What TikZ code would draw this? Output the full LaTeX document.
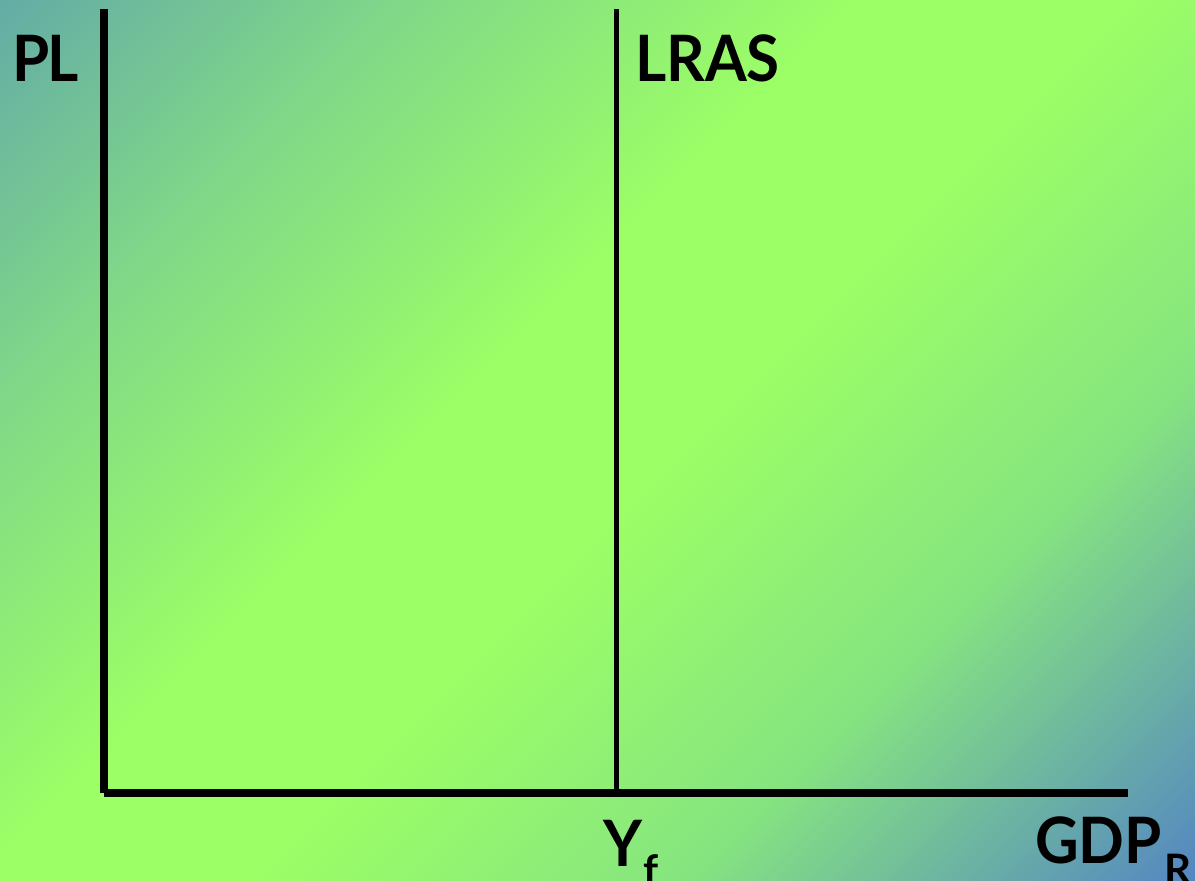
\documentclass[tikz,border=0pt]{standalone}
\usepackage{fontspec}
\setmainfont{Lato}
\definecolor{cTL}{RGB}{100,172,166}
\definecolor{cA}{RGB}{128,215,136}
\definecolor{cG}{RGB}{156,255,102}
\definecolor{cM}{RGB}{134,228,128}
\definecolor{cBR}{RGB}{84,134,194}
\pgfdeclarehorizontalshading{bgshade}{100bp}{%
  color(0bp)=(cTL); color(14.6bp)=(cTL); color(28bp)=(cA); color(44bp)=(cG); color(53bp)=(cG);
  color(68bp)=(cM); color(85.4bp)=(cBR); color(100bp)=(cBR)}
\tikzset{
  axisline/.style={line width=8pt, line cap=butt},
  lrasline/.style={line width=5pt, line cap=butt},
  lbl/.style={inner sep=0pt, anchor=base west, font=\fontsize{64}{70}\selectfont\bfseries\addfontfeature{FakeStretch=0.94}},
  sub/.style={inner sep=0pt, anchor=base west, font=\fontsize{42}{46}\selectfont\bfseries}
}
\begin{document}
\begin{tikzpicture}[x=1pt,y=-1pt]
\shade[shading=bgshade, shading angle=-45] (0,0) rectangle (1195,881);
\useasboundingbox (0,0) rectangle (1195,881);
\coordinate (ytop) at (104,9);
\coordinate (o) at (104,793);
\coordinate (xend) at (1128,793);
\coordinate (ltop) at (616,9);
\coordinate (lbot) at (616,789);
\draw[axisline] (ytop) -- (o);
\draw[axisline] (o) -- (xend);
\draw[lrasline] (ltop) -- (lbot);
\node[lbl] (pl) at (12,81) {P\kern-2pt L};
\node[lbl] (lras) at (635,81) {LRAS};
\node[lbl] (yf) at (603,866) {Y};
\node[sub] (f) at (yf.base east) [yshift=-19pt, xshift=1pt] {f};
\node[lbl] (gdp) at (1035,863) {GDP};
\node[sub] (r) at (gdp.base east) [yshift=-21pt, xshift=2pt] {R};
\end{tikzpicture}
\end{document}
